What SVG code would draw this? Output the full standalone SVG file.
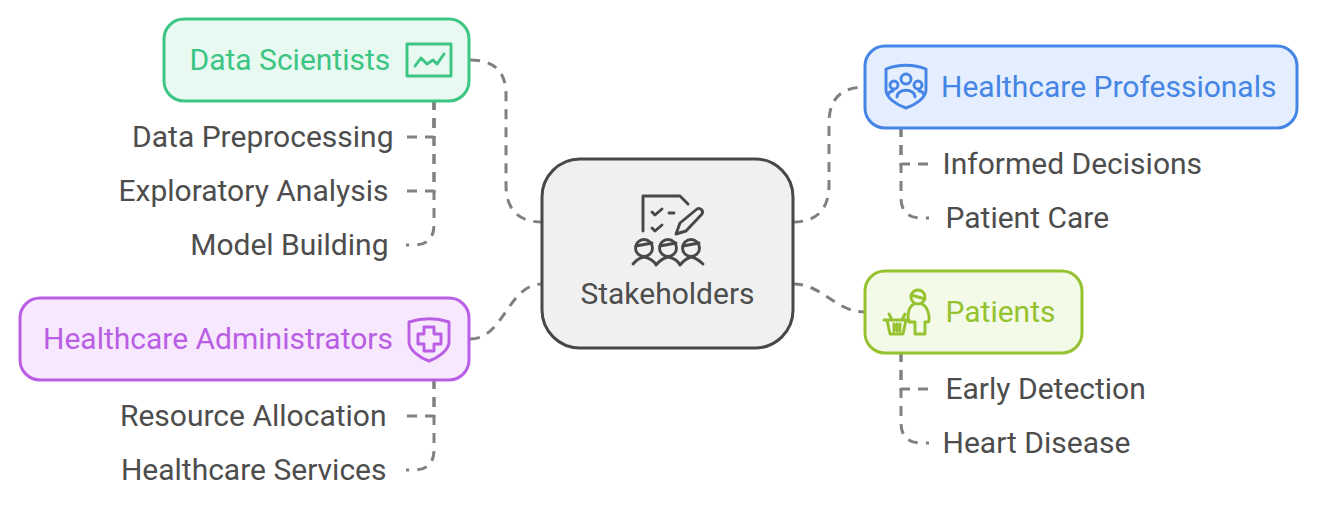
<svg xmlns="http://www.w3.org/2000/svg" width="1317" height="506" viewBox="0 0 1317 506">
<style>
text{font-family:Roboto,"Liberation Sans",sans-serif;font-size:30px;fill:#4d4d4d}
.c{fill:none;stroke:#808080;stroke-width:3;stroke-dasharray:10 8}
.b{stroke-width:3}
.i{fill:none;stroke-width:2.9;stroke-linecap:round;stroke-linejoin:round}
.e{text-anchor:end}
</style>
<rect width="1317" height="506" fill="#fff"/>
<g id="connectors">
<path class="c" d="M470 60C495 60 506 72 506 95V185C506 208 517 222 542 222"/>
<path class="c" d="M434 100V225C434 238 427 245 414 245H406"/>
<path class="c" d="M434 100V137H406"/>
<path class="c" d="M434 100V191H406"/>
<path class="c" d="M470 339C504 339 508 284 542 284"/>
<path class="c" d="M434 379V450C434 463 427 470 414 470H406"/>
<path class="c" d="M434 379V416H406"/>
<path class="c" d="M793 222C818 222 829 208 829 185V123C829 100 840 87 865 87"/>
<path class="c" d="M793 284C823 284 835 312 865 312"/>
<path class="c" d="M901 127V198C901 211 908 218 921 218H929"/>
<path class="c" d="M901 127V164H929"/>
<path class="c" d="M901 352V423C901 436 908 443 921 443H929"/>
<path class="c" d="M901 352V389H929"/>
</g>
<g id="stakeholders">
<rect class="b" x="542" y="159" width="251" height="189" rx="38" fill="#f0f0f0" stroke="#484848"/>
<g class="i" stroke="#484848">
<path d="M643 231V196H680L688 204"/>
<path d="M652 212L655 215L662 209M652 228L655 231L662 225M669 213H674"/>
<path d="M676 234L680 223L697 209C700 207 704 211 702 214L686 231Z"/>
<circle cx="644" cy="248" r="8.500"/><circle cx="668" cy="248" r="8.500"/><circle cx="691" cy="248" r="8.500"/>
<path d="M636 246L652 243M660 246L676 243M683 246L699 243"/>
<path d="M633 264C638 258 644 257 644 257C650 258 655 262 656 265C660 260 664 258 668 257C674 258 678 261 680 265C684 260 688 258 691 257C696 258 700 261 703 264"/>
</g>
<text x="667.500" y="303.500" text-anchor="middle">Stakeholders</text>
</g>
<g id="data-scientists">
<rect class="b" x="164" y="19" width="305" height="82" rx="20" fill="#e8f9f1" stroke="#3cc583"/>
<text x="189.500" y="70" style="fill:#3cc583">Data Scientists</text>
<g class="i" stroke="#3cc583"><rect x="407" y="44" width="44" height="32"/><path d="M415 66L421 58L427 64L433 60L437 64L444 54"/></g>
</g>
<text class="e" x="393.500" y="147">Data Preprocessing</text>
<text class="e" x="388.500" y="201">Exploratory Analysis</text>
<text class="e" x="388.500" y="255">Model Building</text>
<g id="healthcare-administrators">
<rect class="b" x="20" y="298" width="449" height="82" rx="20" fill="#f7e8fd" stroke="#b95ee5"/>
<text x="43" y="349" style="fill:#b95ee5">Healthcare Administrators</text>
<g class="i" stroke="#b95ee5"><path d="M409 322C422 318 437 318 449 322V342C449 350 438 358 429 361C420 358 409 350 409 342Z"/><path d="M424 327H434V334H441V344H434V351H424V344H418V334H424Z"/></g>
</g>
<text class="e" x="386.500" y="426">Resource Allocation</text>
<text class="e" x="386.500" y="480">Healthcare Services</text>
<g id="healthcare-professionals">
<rect class="b" x="865" y="46" width="432" height="82" rx="20" fill="#e4eefe" stroke="#4585e5"/>
<text x="941" y="97" style="fill:#4585e5">Healthcare Professionals</text>
<g class="i" stroke="#4585e5"><path d="M886 69C898 64 914 64 926 69V90C926 98 915 105 906 108C897 105 886 98 886 90Z"/><circle cx="906" cy="79" r="5"/><circle cx="894" cy="85" r="4"/><circle cx="918" cy="85" r="4"/><path d="M897 97C897 88 915 88 915 97M888 95C889 92 891 91 893 91M924 95C923 92 921 91 919 91"/></g>
</g>
<text x="942.500" y="174">Informed Decisions</text>
<text x="945.500" y="228">Patient Care</text>
<g id="patients">
<rect class="b" x="865" y="271" width="217" height="82" rx="20" fill="#f3fae8" stroke="#95c22f"/>
<text x="945.500" y="322" style="fill:#95c22f">Patients</text>
<g class="i" stroke="#95c22f"><circle cx="918" cy="297" r="7"/><path d="M911 295L925 299"/><path d="M914 304C906 308 908 322 909 322H915V334H925V322H928C930 322 930 308 922 304"/><path d="M884 320H909M887 320L890 334H903L906 320M889 314L892 320M905 314L902 320M894 324V331M897 324V331M900 324V331"/></g>
</g>
<text x="945.500" y="399">Early Detection</text>
<text x="942.500" y="453">Heart Disease</text>
</svg>
